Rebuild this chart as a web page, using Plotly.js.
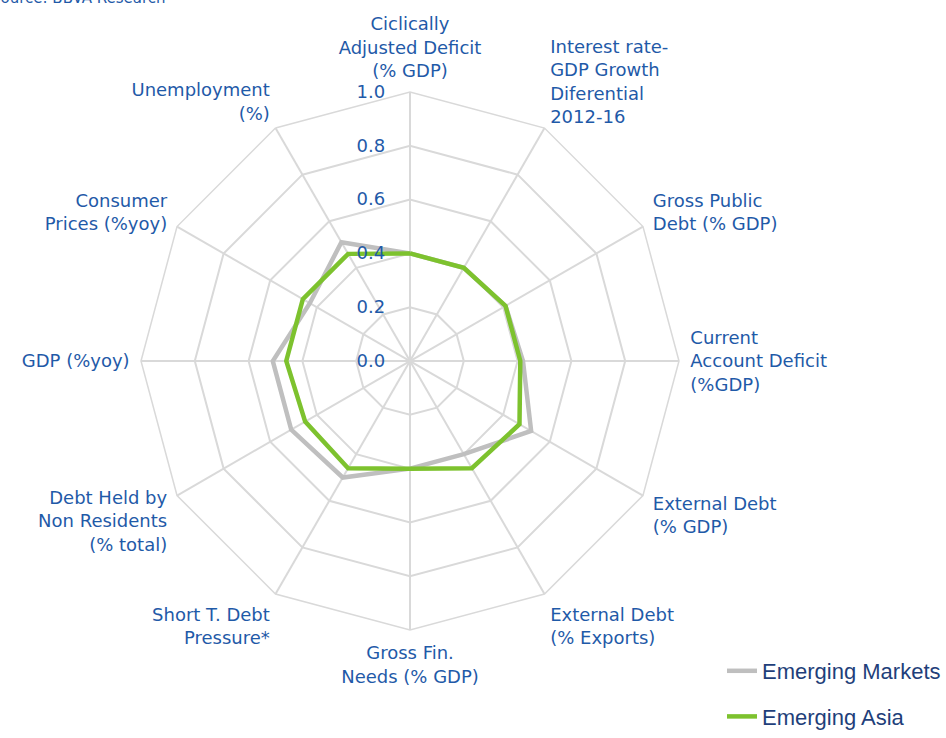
<!DOCTYPE html>
<html>
<head>
<meta charset="utf-8">
<script src="https://cdn.plot.ly/plotly-3.0.1.min.js"></script>
<style>html,body{margin:0;padding:0;background:#fff;}#chart{width:946px;height:738px;}</style>
</head>
<body>
<div id="chart"></div>
<script>
const categories = [
  "Ciclically<br>Adjusted Deficit<br>(% GDP)",
  "Interest rate-<br>GDP Growth<br>Diferential<br>2012-16",
  "Gross Public<br>Debt (% GDP)",
  "Current<br>Account Deficit<br>(%GDP)",
  "External Debt<br>(% GDP)",
  "External Debt<br>(% Exports)",
  "Gross Fin.<br>Needs (% GDP)",
  "Short T. Debt<br>Pressure*",
  "Debt Held by<br>Non Residents<br>(% total)",
  "GDP (%yoy)",
  "Consumer<br>Prices (%yoy)",
  "Unemployment<br>(%)"
];
const emergingMarkets = [0.40, 0.40, 0.41, 0.42, 0.52, 0.40, 0.40, 0.50, 0.51, 0.51, 0.43, 0.51];
const emergingAsia    = [0.40, 0.40, 0.41, 0.41, 0.47, 0.46, 0.40, 0.46, 0.45, 0.46, 0.46, 0.46];
const radialTicks = [0, 0.2, 0.4, 0.6, 0.8, 1.0];

function closeLoop(a){ return a.concat([a[0]]); }

const blue = "#1f5aa8";
const labelFont = "DejaVu Sans, Verdana, sans-serif";
const traces = [
  {type:"scatterpolar", mode:"lines", name:"Emerging Markets", legendgroup:"a",
   r: closeLoop(emergingMarkets), theta: closeLoop(categories),
   line:{color:"#bfbfbf", width:4.5}},
  {type:"scatterpolar", mode:"lines", name:"Emerging Asia", legendgroup:"b",
   r: closeLoop(emergingAsia), theta: closeLoop(categories),
   line:{color:"#7dc22e", width:4.5}}
];

const layout = {
  width:946, height:738,
  margin:{l:0,r:0,t:0,b:0},
  paper_bgcolor:"#fff",
  font:{family:labelFont, color:blue, size:16},
  showlegend:true,
  legend:{x:1, xanchor:"right", y:0, yanchor:"bottom", tracegroupgap:14,
          font:{family:"Liberation Sans, Arial, sans-serif", size:22, color:"#1f3f7a"},
          bgcolor:"rgba(0,0,0,0)"},
  polar:{
    domain:{x:[0.149,0.7178], y:[0.1463,0.8753]},
    gridshape:"linear",
    bgcolor:"#fff",
    radialaxis:{range:[0,1], tickvals:radialTicks, tickformat:".1f", angle:90, tickangle:90,
      side:"counterclockwise", showline:false, ticks:"outside", ticklen:18, tickcolor:"rgba(0,0,0,0)",
      gridcolor:"#d9d9d9", gridwidth:1.5,
      tickfont:{size:18, color:blue, family:labelFont}},
    angularaxis:{rotation:90, direction:"clockwise", gridcolor:"#d9d9d9", gridwidth:1.5,
      linecolor:"#d9d9d9", linewidth:1.5, ticks:"outside", ticklen:7, tickcolor:"rgba(0,0,0,0)",
      tickfont:{size:18, color:blue, family:labelFont}}
  },
  annotations:[{text:"Source: BBVA Research", xref:"paper", yref:"paper", x:0.1776, xanchor:"right",
    y:1.0027, yanchor:"middle", showarrow:false, font:{size:15, color:blue, family:labelFont}}]
};
Plotly.newPlot("chart", traces, layout, {displayModeBar:false});
</script>
</body>
</html>
